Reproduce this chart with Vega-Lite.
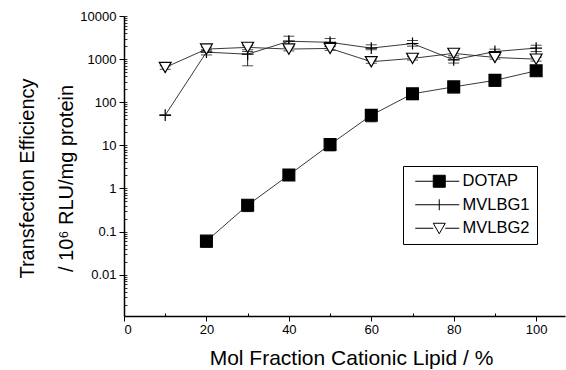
{
  "$schema": "https://vega.github.io/schema/vega-lite/v6.json",
  "width": 441,
  "height": 300,
  "autosize": "none",
  "padding": {"left": 124, "top": 16, "right": 1, "bottom": 54},
  "background": "white",
  "config": {
    "font": "Liberation Sans",
    "view": {"stroke": null},
    "axis": {"grid": false, "labelColor": "black", "titleColor": "black", "tickColor": "black", "domainColor": "black", "labelFont": "Liberation Sans", "titleFont": "Liberation Sans", "titleFontWeight": "normal"},
    "legend": {"orient": "none", "legendX": 279, "legendY": 150, "strokeColor": "black", "fillColor": "white", "padding": 7, "symbolSize": 100, "symbolStrokeWidth": 1, "symbolOpacity": 1, "labelFontSize": 16.5, "labelFont": "Liberation Sans", "labelColor": "black", "labelOffset": 36, "rowPadding": 6.5}
  },
  "data": {
    "values": [
      {"x": 20, "series": "DOTAP", "v": 0.06, "lo": 0.043, "hi": 0.068},
      {"x": 30, "series": "DOTAP", "v": 0.41, "lo": 0.29, "hi": 0.46},
      {"x": 40, "series": "DOTAP", "v": 2.05, "lo": 1.6, "hi": 2.3},
      {"x": 50, "series": "DOTAP", "v": 10.4, "lo": 7.4, "hi": 12},
      {"x": 60, "series": "DOTAP", "v": 50, "lo": 35, "hi": 56},
      {"x": 70, "series": "DOTAP", "v": 157, "lo": 115, "hi": 178},
      {"x": 80, "series": "DOTAP", "v": 227, "lo": 165, "hi": 255},
      {"x": 90, "series": "DOTAP", "v": 322, "lo": 232, "hi": 360},
      {"x": 100, "series": "DOTAP", "v": 535, "lo": 430, "hi": 600},
      {"x": 10, "series": "MVLBG1", "v": 50, "lo": 50, "hi": 50},
      {"x": 20, "series": "MVLBG1", "v": 1450, "lo": 1250, "hi": 1650},
      {"x": 30, "series": "MVLBG1", "v": 1300, "lo": 700, "hi": 1500},
      {"x": 40, "series": "MVLBG1", "v": 2600, "lo": 2000, "hi": 3400},
      {"x": 50, "series": "MVLBG1", "v": 2450, "lo": 2000, "hi": 3000},
      {"x": 60, "series": "MVLBG1", "v": 1800, "lo": 1650, "hi": 2150},
      {"x": 70, "series": "MVLBG1", "v": 2300, "lo": 2000, "hi": 2700},
      {"x": 80, "series": "MVLBG1", "v": 960, "lo": 810, "hi": 1100},
      {"x": 90, "series": "MVLBG1", "v": 1500, "lo": 1300, "hi": 1700},
      {"x": 100, "series": "MVLBG1", "v": 1800, "lo": 1500, "hi": 2100},
      {"x": 10, "series": "MVLBG2", "v": 640, "lo": 580, "hi": 700},
      {"x": 20, "series": "MVLBG2", "v": 1710, "lo": 1550, "hi": 1900},
      {"x": 30, "series": "MVLBG2", "v": 1870, "lo": 1650, "hi": 2050},
      {"x": 40, "series": "MVLBG2", "v": 1710, "lo": 1550, "hi": 1900},
      {"x": 50, "series": "MVLBG2", "v": 1770, "lo": 1600, "hi": 1950},
      {"x": 60, "series": "MVLBG2", "v": 870, "lo": 800, "hi": 950},
      {"x": 70, "series": "MVLBG2", "v": 1040, "lo": 950, "hi": 1150},
      {"x": 80, "series": "MVLBG2", "v": 1360, "lo": 1200, "hi": 1650},
      {"x": 90, "series": "MVLBG2", "v": 1090, "lo": 1000, "hi": 1200},
      {"x": 100, "series": "MVLBG2", "v": 1000, "lo": 900, "hi": 1100}
    ]
  },
  "resolve": {"axis": {"x": "independent", "y": "independent"}},
  "layer": [
    {
      "mark": {"type": "line", "color": "#222", "strokeWidth": 0.9},
      "encoding": {
        "x": {"field": "x", "type": "quantitative", "scale": {"domain": [0, 107], "nice": false, "zero": false}, "axis": null},
        "y": {"field": "v", "type": "quantitative", "scale": {"type": "log", "domain": [0.0011, 10000], "nice": false}, "axis": null},
        "detail": {"field": "series"}
      }
    },
    {
      "mark": {"type": "rule", "color": "black", "strokeWidth": 0.9},
      "encoding": {
        "x": {"field": "x", "type": "quantitative", "axis": null},
        "y": {"field": "lo", "type": "quantitative", "axis": null},
        "y2": {"field": "hi"}
      }
    },
    {
      "mark": {"type": "tick", "orient": "horizontal", "color": "black", "size": 11, "thickness": 1},
      "encoding": {
        "x": {"field": "x", "type": "quantitative", "axis": null},
        "y": {"field": "lo", "type": "quantitative", "axis": null}
      }
    },
    {
      "mark": {"type": "tick", "orient": "horizontal", "color": "black", "size": 11, "thickness": 1},
      "encoding": {
        "x": {"field": "x", "type": "quantitative", "axis": null},
        "y": {"field": "hi", "type": "quantitative", "axis": null}
      }
    },
    {
      "mark": {"type": "point", "stroke": "black", "strokeWidth": 1.2, "opacity": 1, "size": 140},
      "encoding": {
        "x": {"field": "x", "type": "quantitative",
          "axis": {"orient": "bottom", "values": [0, 20, 40, 60, 80, 100], "tickSize": 5, "tickWidth": 1, "domainWidth": 1.5, "labelFontSize": 13, "labelPadding": 2, "title": "Mol Fraction Cationic Lipid / %", "titleFontSize": 21, "titleBaseline": "alphabetic", "titleAlign": "center", "titleX": 227, "titleY": 48}},
        "y": {"field": "v", "type": "quantitative",
          "axis": {"orient": "left", "values": [0.01, 0.1, 1, 10, 100, 1000, 10000], "format": "~g", "tickSize": 5, "tickWidth": 1, "domainWidth": 1.5, "labelFontSize": 13, "labelPadding": 3, "title": ["Transfection Efficiency", "/ 10⁶ RLU/mg protein"], "titleFontSize": 20, "titleLineHeight": 39, "titleAngle": -90, "titleBaseline": "alphabetic", "titleAlign": "center", "titleX": -91, "titleY": 162}},
        "shape": {"condition": [{"test": "datum.series === 'DOTAP'", "value": "square"}, {"test": "datum.series === 'MVLBG1'", "value": "M-1,0H1M0,-1V1"}], "value": "triangle-down"},
        "fill": {"condition": [{"test": "datum.series === 'DOTAP'", "value": "black"}, {"test": "datum.series === 'MVLBG1'", "value": "black"}], "value": "white"}
      }
    },
    {
      "mark": {"type": "point", "opacity": 0, "filled": true, "strokeWidth": 1},
      "encoding": {
        "x": {"field": "x", "type": "quantitative",
          "axis": {"orient": "bottom", "values": [10, 30, 50, 70, 90], "tickSize": -3, "tickWidth": 1, "labels": false, "domain": false, "title": null}},
        "y": {"field": "v", "type": "quantitative",
          "axis": {"orient": "left", "values": [0.002, 0.003, 0.004, 0.005, 0.006, 0.007, 0.008, 0.009, 0.01, 0.02, 0.03, 0.04, 0.05, 0.06, 0.07, 0.08, 0.09, 0.1, 0.2, 0.3, 0.4, 0.5, 0.6, 0.7, 0.8, 0.9, 1, 2, 3, 4, 5, 6, 7, 8, 9, 10, 20, 30, 40, 50, 60, 70, 80, 90, 100, 200, 300, 400, 500, 600, 700, 800, 900, 1000, 2000, 3000, 4000, 5000, 6000, 7000, 8000, 9000, 10000], "tickSize": -3, "tickWidth": 0.8, "labels": false, "domain": false, "title": null}},
        "shape": {"field": "series", "type": "nominal",
          "scale": {"domain": ["DOTAP", "MVLBG1", "MVLBG2"], "range": ["M-0.6,0H3.0M5.4,0H8.2M3.0,-1.2H5.4V1.2H3.0Z", "M-0.6,0H8.2M4.2,-1.1V1.1", "M-0.6,0H3.0M5.4,0H8.2M3.0,-1H5.4L4.2,1.1Z"]},
          "legend": {"title": null, "orient": "none", "legendX": 279, "legendY": 150}},
        "fill": {"field": "series", "type": "nominal",
          "scale": {"domain": ["DOTAP", "MVLBG1", "MVLBG2"], "range": ["black", "black", "white"]},
          "legend": {"title": null, "orient": "none", "legendX": 279, "legendY": 150}},
        "stroke": {"field": "series", "type": "nominal",
          "scale": {"domain": ["DOTAP", "MVLBG1", "MVLBG2"], "range": ["black", "black", "black"]},
          "legend": {"title": null, "orient": "none", "legendX": 279, "legendY": 150}}
      }
    }
  ]
}
